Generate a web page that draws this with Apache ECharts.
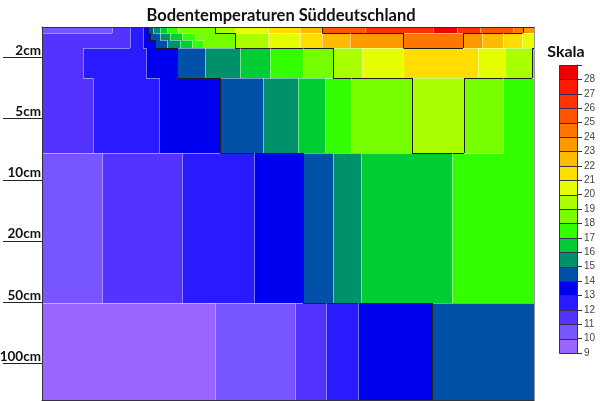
<!DOCTYPE html>
<html><head><meta charset="utf-8">
<script src="https://cdn.jsdelivr.net/npm/echarts@6/dist/echarts.min.js"></script>
<style>html,body{margin:0;padding:0;background:#fff}#c{width:600px;height:401px}</style>
</head><body><div id="c"></div>
<script>
// ---- data ----
const depthLabels = ['2cm', '5cm', '10cm', '20cm', '50cm', '100cm'];
const depthPos = [0, 1, 2, 3, 4, 5];
const scaleTemps = [9, 10, 11, 12, 13, 14, 15, 16, 17, 18, 19, 20, 21, 22, 23, 24, 25, 26, 27, 28];
const scaleColors = ['#9966ff', '#7755ff', '#5533ff', '#2a1aff', '#0000f0', '#0050a8', '#00906a', '#00cc33', '#33ff00', '#77ff00',
                     '#aaff00', '#e6ff00', '#ffdd00', '#ffbb00', '#ff9900', '#ff7700', '#ff5500', '#ff3300', '#ff1a00', '#f00000'];
const majorContours = [14, 19, 24];
const timeMax = 24;
// depth-axis positions where each horizontal band begins/ends
const bandEdges = [-0.50, -0.40, -0.29, -0.16, 0.34, 1.56, 4.02, 5.60];
// each band: start time of each piece and its temperature class
const band0Start = [0, 3.41, 4.29, 4.93, 5.17, 5.41, 5.76, 6.10, 6.63, 8.44, 9.41, 11.02, 12.59, 13.66, 15.76, 19.07, 20.24, 21.37, 22.98, 23.46];
const band0Temp  = [10, 11, 12, 13, 14, 15, 16, 17, 18, 19, 20, 21, 22, 25, 26, 28, 26, 25, 24, 23];
const band1Start = [0, 4.29, 4.93, 5.27, 5.76, 6.24, 6.83, 7.46, 9.41, 11.02, 12.59, 13.66, 15.02, 17.61, 20.54, 21.46, 22.49, 23.41];
const band1Temp  = [11, 12, 13, 14, 15, 16, 17, 18, 19, 20, 21, 22, 23, 24, 23, 22, 21, 20];
const band2Start = [0, 4.29, 4.93, 5.51, 6.10, 6.73, 7.32, 7.85, 9.41, 11.02, 12.59, 13.66, 15.02, 17.61, 20.54, 21.46, 22.49, 23.41];
const band2Temp  = [11, 12, 13, 14, 15, 16, 17, 18, 19, 20, 21, 22, 23, 24, 23, 22, 21, 20];
const band3Start = [0, 2.00, 5.07, 6.59, 7.95, 9.66, 11.12, 12.73, 14.20, 15.61, 17.61, 21.27, 22.59, 23.90];
const band3Temp  = [11, 12, 13, 14, 15, 16, 17, 18, 19, 20, 21, 20, 19, 18];
const band4Start = [0, 2.49, 5.71, 8.68, 10.78, 12.49, 13.80, 15.07, 18.05, 20.59, 22.49];
const band4Temp  = [11, 12, 13, 14, 15, 16, 17, 18, 19, 18, 17];
const band5Start = [0, 2.93, 6.83, 10.34, 12.73, 14.20, 15.56, 20.00];
const band5Temp  = [10, 11, 12, 13, 14, 15, 16, 17];
const band6Start = [0, 8.44, 12.34, 13.85, 15.41, 19.02];
const band6Temp  = [9, 10, 11, 12, 13, 14];

// ---- build tables ----
const bands = [[band0Start, band0Temp], [band1Start, band1Temp], [band2Start, band2Temp], [band3Start, band3Temp],
               [band4Start, band4Temp], [band5Start, band5Temp], [band6Start, band6Temp]];
const segEnd = (starts, j) => (j + 1 < starts.length ? starts[j + 1] : timeMax);
const cells = [];
bands.forEach(([s, t], i) => s.forEach((x, j) => cells.push([x, segEnd(s, j), bandEdges[i], bandEdges[i + 1], t[j]])));
function isMajor(a, b) { const lo = Math.min(a, b), hi = Math.max(a, b); return majorContours.some(c => lo < c && c <= hi) ? 1 : 0; }
const lines = [];
bands.forEach(([s, t], i) => {
  for (let j = 1; j < s.length; j++) if (t[j] !== t[j - 1]) lines.push([s[j], bandEdges[i], s[j], bandEdges[i + 1], isMajor(t[j], t[j - 1])]);
  if (i + 1 < bands.length) {
    const [s2, t2] = bands[i + 1];
    s.forEach((x, j) => s2.forEach((x2, k) => {
      const lo = Math.max(x, x2), hi = Math.min(segEnd(s, j), segEnd(s2, k));
      if (hi > lo && t[j] !== t2[k]) lines.push([lo, bandEdges[i + 1], hi, bandEdges[i + 1], isMajor(t[j], t2[k])]);
    }));
  }
});
const legendCells = scaleTemps.map(t => [0, 1, t, t + 1, t]);

function renderCell(params, api) {
  const p0 = api.coord([api.value(0), api.value(2)]);
  const p1 = api.coord([api.value(1), api.value(3)]);
  let x0 = Math.round(p0[0]), x1 = Math.round(p1[0]);
  let y0 = Math.round(Math.min(p0[1], p1[1])), y1 = Math.round(Math.max(p0[1], p1[1]));
  const legend = params.seriesIndex === 2;
  if (legend) { x0 += 0.5; x1 += 0.5; y0 += 0.5; y1 += 0.5; }
  return {
    type: 'rect',
    shape: { x: x0, y: y0, width: x1 - x0, height: y1 - y0 },
    style: legend ? { fill: api.visual('color'), stroke: '#3a2a55', lineWidth: 1 } : { fill: api.visual('color') }
  };
}
function renderLine(params, api) {
  const a = api.coord([api.value(0), api.value(1)]);
  const b = api.coord([api.value(2), api.value(3)]);
  const major = api.value(4) === 1;
  const fx = v => Math.round(v) + 0.5;
  let x1 = a[0], y1 = a[1], x2 = b[0], y2 = b[1];
  if (Math.abs(x1 - x2) < 0.01) { x1 = x2 = fx(x1); y1 = Math.round(y1); y2 = Math.round(y2); }
  else { y1 = y2 = fx(y1); x1 = Math.round(x1); x2 = Math.round(x2); }
  return {
    type: 'line', shape: { x1, y1, x2, y2 },
    style: { stroke: major ? '#1e1e1e' : 'rgba(255,255,255,0.45)', lineWidth: 1 }
  };
}

const chart = echarts.init(document.getElementById('c'), null, { renderer: 'canvas' });
chart.setOption({
  animation: false,
  backgroundColor: '#ffffff',
  graphic: [
    { type: 'text', x: 281, y: 7, style: { text: 'Bodentemperaturen Süddeutschland', textAlign: 'center', fill: '#111',
      font: 'bold 16.5px Lato' } },
    { type: 'text', x: 566, y: 44, style: { text: 'Skala', textAlign: 'center', fill: '#111', font: 'bold 16px Lato' } }
  ],
  grid: [
    { left: 42, top: 27, width: 492, height: 373, containLabel: false, outerBoundsMode: 'none' },
    { left: 559, top: 65, width: 18, height: 288, containLabel: false, outerBoundsMode: 'none' }
  ],
  xAxis: [
    { gridIndex: 0, type: 'value', min: 0, max: timeMax, position: 'bottom', z: 5,
      axisLine: { onZero: false, lineStyle: { color: '#333' } }, axisTick: { show: false }, axisLabel: { show: false }, splitLine: { show: false } },
    { gridIndex: 0, type: 'value', min: 0, max: timeMax, position: 'top', z: 5,
      axisLine: { onZero: false, lineStyle: { color: '#333' } }, axisTick: { show: false }, axisLabel: { show: false }, splitLine: { show: false } },
    { gridIndex: 1, type: 'value', min: 0, max: 1, show: false }
  ],
  yAxis: [
    { gridIndex: 0, type: 'value', inverse: true, min: -0.5, max: 5.6, position: 'left', z: 5,
      axisLine: { onZero: false, lineStyle: { color: '#333' } },
      axisTick: { show: true, customValues: depthPos, length: 39, lineStyle: { color: '#222' } },
      axisLabel: { show: true, customValues: depthPos, formatter: v => depthLabels[Math.round(v)], verticalAlign: 'bottom',
        margin: 1, fontFamily: 'Lato', fontWeight: 'bold', fontSize: 13.5, color: '#111' },
      splitLine: { show: false } },
    { gridIndex: 0, type: 'value', inverse: true, min: -0.5, max: 5.6, position: 'right', z: 5,
      axisLine: { onZero: false, lineStyle: { color: '#999' } }, axisTick: { show: false }, axisLabel: { show: false }, splitLine: { show: false } },
    { gridIndex: 1, type: 'value', min: 9, max: 29, interval: 1, position: 'right', z: 5,
      axisLine: { show: true, onZero: false, lineStyle: { color: '#3a2a55' } },
      axisTick: { show: true, length: 5, lineStyle: { color: '#333' } },
      axisLabel: { margin: 7, fontSize: 10, color: '#444', fontFamily: 'Liberation Sans', formatter: v => (v >= 29 ? '' : String(v)) },
      splitLine: { show: false } }
  ],
  visualMap: {
    type: 'piecewise', show: false, dimension: 4, seriesIndex: [0, 2],
    pieces: scaleTemps.map((t, i) => ({ gte: t, lt: t + 1, color: scaleColors[i] }))
  },
  series: [
    { type: 'custom', xAxisIndex: 0, yAxisIndex: 0, renderItem: renderCell, data: cells, silent: true },
    { type: 'custom', xAxisIndex: 0, yAxisIndex: 0, renderItem: renderLine, data: lines, silent: true, z: 3 },
    { type: 'custom', xAxisIndex: 2, yAxisIndex: 2, renderItem: renderCell, data: legendCells, silent: true }
  ]
});
</script></body></html>
